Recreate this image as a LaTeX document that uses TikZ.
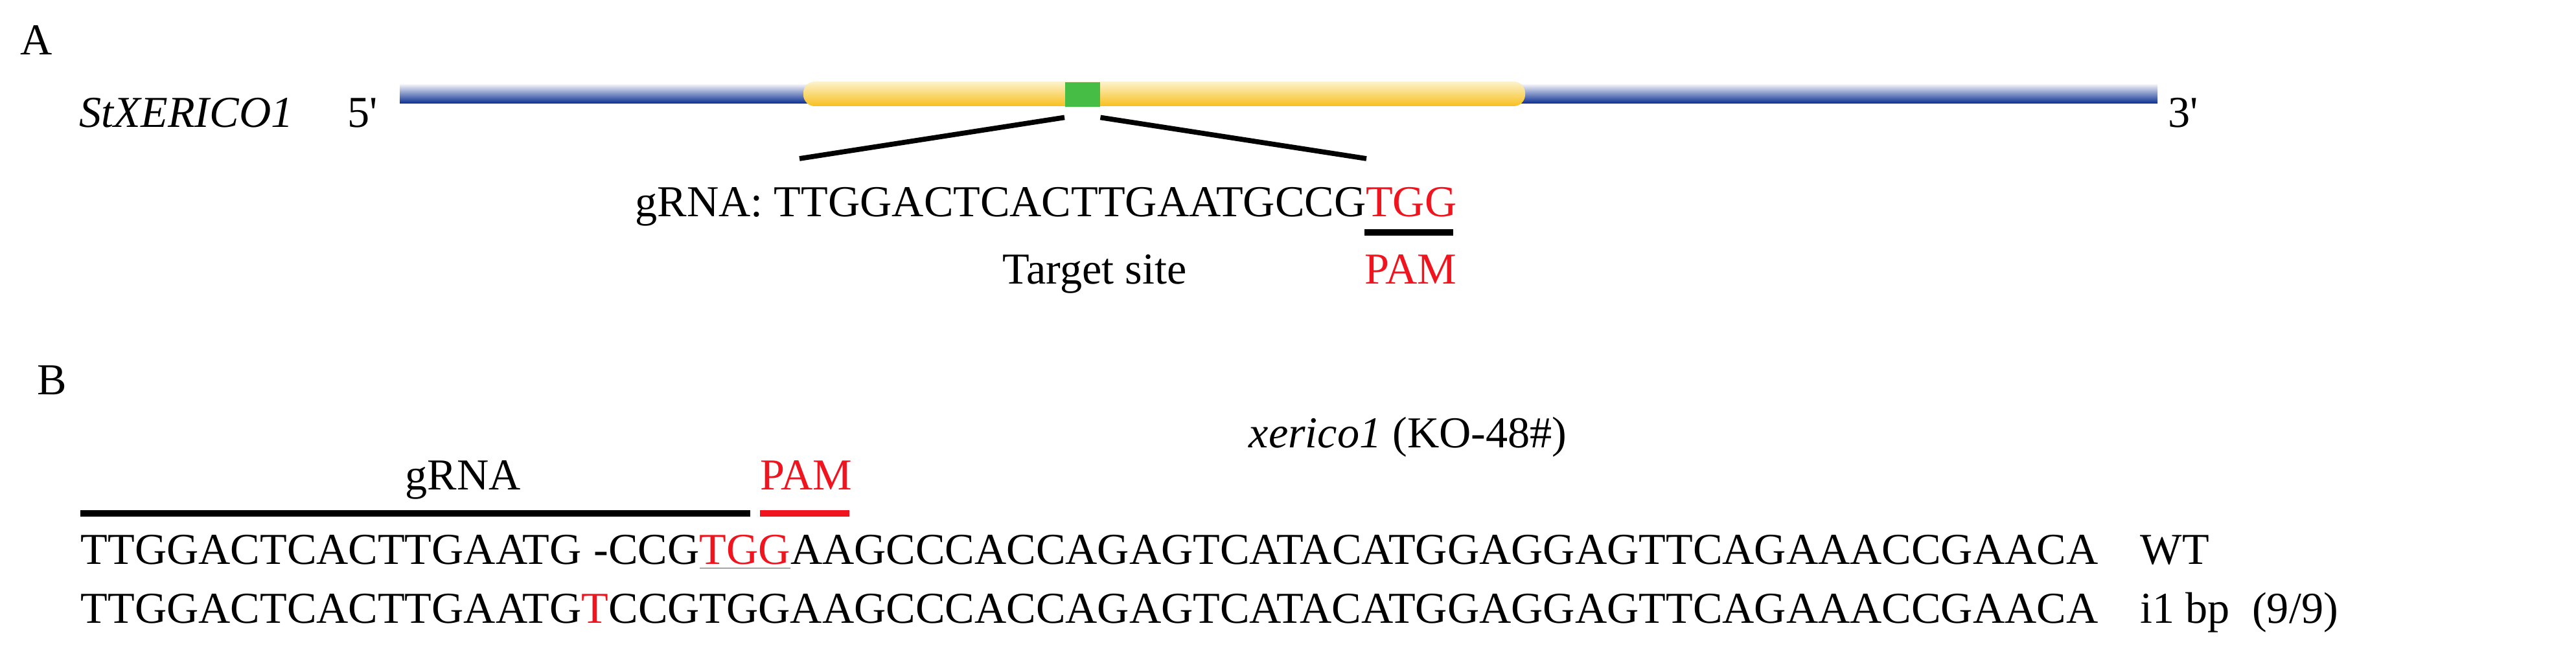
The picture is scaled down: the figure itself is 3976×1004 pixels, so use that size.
\documentclass[tikz,border=0pt]{standalone}
\usepackage{fontspec}
\setmainfont{Liberation Serif}
\definecolor{navy}{RGB}{10,45,145}
\definecolor{gold}{RGB}{247,192,30}
\definecolor{pale}{RGB}{252,243,205}
\definecolor{grn}{RGB}{70,190,70}
\definecolor{pamred}{RGB}{240,20,30}
\begin{document}
\begin{tikzpicture}[x=0.01cm,y=-0.01cm,
  txt/.style={inner sep=0,anchor=base west,font=\fontsize{19.4}{23}\selectfont},
  bar/.style={line width=4.5pt}]
\useasboundingbox (0,0) rectangle (3976,1004);
% Panel A
\node[txt] (A) at (31,85) {A};
\node[txt] (gene) at (122,197) {\itshape StXERICO1};
\node[txt] (p5) at (536,197) {5\textquotesingle};
\node[txt] (p3) at (3346,197) {3\textquotesingle};
\shade[top color=navy!8,bottom color=navy] (617,131) rectangle (3330,160);
\shade[top color=pale,bottom color=gold,rounded corners=5pt] (1240,126) rectangle (2354,164);
\node[fill=grn,inner sep=0,minimum width=0.54cm,minimum height=0.38cm,anchor=north west] (tgt) at (1643,126) {};
\coordinate (lend) at (1234,245);
\coordinate (rend) at (2109,245);
\draw[line width=2.2pt] ([yshift=-0.16cm]tgt.south west) -- (lend);
\draw[line width=2.2pt] ([yshift=-0.16cm]tgt.south east) -- (rend);
\node[txt] (grna) at (980,335) {gRNA: TTGGACTCACTTGAATGCCG\textcolor{pamred}{TGG}};
\coordinate (ul1) at (2106,359);
\coordinate (ul2) at (2243,359);
\draw[line width=2.6pt] (ul1) -- (ul2);
\node[txt] (ts) at (1547,439) {Target site};
\node[txt,text=pamred] (pamA) at (2106,439) {PAM};
% Panel B
\node[txt] (B) at (57,610) {B};
\node[txt] (ko) at (1927,692) {\itshape xerico1\upshape\ (KO-48\#)};
\node[txt] (glab) at (625,757) {gRNA};
\node[txt,text=pamred] (pamB) at (1173,757) {PAM};
\coordinate (g1) at (124,793); \coordinate (g2) at (1158,793);
\coordinate (r1) at (1173,793); \coordinate (r2) at (1311,793);
\draw[line width=3pt] (g1) -- (g2);
\draw[line width=3pt,pamred] (r1) -- (r2);
\node[txt] (wt) at (124,872) {TTGGACTCACTTGAATG\hphantom{T}\llap{-}CCG\textcolor{pamred}{\underline{TGG}}AAGCCCACCAGAGTCATACATGGAGGAGTTCAGAAACCGAACA};
\node[txt] (mt) at (124,962) {TTGGACTCACTTGAATG\textcolor{pamred}{T}CCGTGGAAGCCCACCAGAGTCATACATGGAGGAGTTCAGAAACCGAACA};
\node[txt] (wtl) at (3303,872) {WT};
\node[txt] (mtl) at (3303,962) {i1 bp\ \ (9/9)};
\end{tikzpicture}
\end{document}
